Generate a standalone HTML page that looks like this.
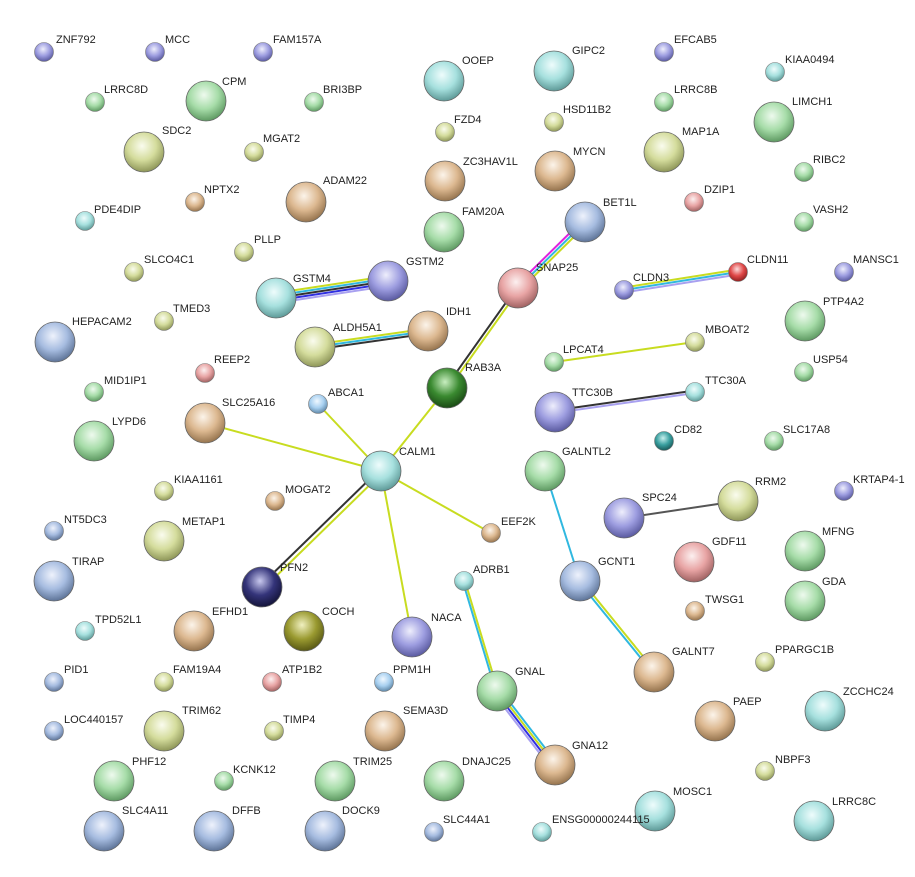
<!DOCTYPE html>
<html><head><meta charset="utf-8"><style>
html,body{margin:0;padding:0;background:#fff;}
svg{display:block;}
text{font-family:"Liberation Sans",sans-serif;font-size:11px;fill:#222;}
</style></head><body>
<svg width="915" height="877" viewBox="0 0 915 877" xmlns="http://www.w3.org/2000/svg">
<defs>
<radialGradient id="sh" cx="50%" cy="50%" r="50%"><stop offset="60%" stop-color="#000" stop-opacity="0.35"/><stop offset="100%" stop-color="#000" stop-opacity="0"/></radialGradient>
<radialGradient id="p" cx="45%" cy="35%" r="65%"><stop offset="0" stop-color="#eeeefc"/><stop offset="0.55" stop-color="#9d9de0"/><stop offset="1" stop-color="#5a5aa0"/></radialGradient>
<radialGradient id="g" cx="45%" cy="35%" r="65%"><stop offset="0" stop-color="#eefaee"/><stop offset="0.55" stop-color="#a6dca8"/><stop offset="1" stop-color="#5e9a62"/></radialGradient>
<radialGradient id="o" cx="45%" cy="35%" r="65%"><stop offset="0" stop-color="#fafcee"/><stop offset="0.55" stop-color="#d4dc9c"/><stop offset="1" stop-color="#8e9658"/></radialGradient>
<radialGradient id="t" cx="45%" cy="35%" r="65%"><stop offset="0" stop-color="#fcf4ea"/><stop offset="0.55" stop-color="#dcb890"/><stop offset="1" stop-color="#96744e"/></radialGradient>
<radialGradient id="c" cx="45%" cy="35%" r="65%"><stop offset="0" stop-color="#eefcfc"/><stop offset="0.55" stop-color="#a6e0de"/><stop offset="1" stop-color="#5e9a98"/></radialGradient>
<radialGradient id="b" cx="45%" cy="35%" r="65%"><stop offset="0" stop-color="#eef2fc"/><stop offset="0.55" stop-color="#a6bce0"/><stop offset="1" stop-color="#5e7498"/></radialGradient>
<radialGradient id="lb" cx="45%" cy="35%" r="65%"><stop offset="0" stop-color="#f0f8ff"/><stop offset="0.55" stop-color="#a8d0f0"/><stop offset="1" stop-color="#6088a8"/></radialGradient>
<radialGradient id="r" cx="45%" cy="35%" r="65%"><stop offset="0" stop-color="#fcf0f0"/><stop offset="0.55" stop-color="#e8a4a4"/><stop offset="1" stop-color="#a06262"/></radialGradient>
<radialGradient id="rr" cx="45%" cy="35%" r="65%"><stop offset="0" stop-color="#fcdcdc"/><stop offset="0.55" stop-color="#e04848"/><stop offset="1" stop-color="#902020"/></radialGradient>
<radialGradient id="dg" cx="45%" cy="35%" r="65%"><stop offset="0" stop-color="#c8eec0"/><stop offset="0.55" stop-color="#3a8a30"/><stop offset="1" stop-color="#1a4a14"/></radialGradient>
<radialGradient id="nv" cx="45%" cy="35%" r="65%"><stop offset="0" stop-color="#c8c8ee"/><stop offset="0.55" stop-color="#34347a"/><stop offset="1" stop-color="#14143a"/></radialGradient>
<radialGradient id="do" cx="45%" cy="35%" r="65%"><stop offset="0" stop-color="#f0f0c0"/><stop offset="0.55" stop-color="#9a9a30"/><stop offset="1" stop-color="#585814"/></radialGradient>
<radialGradient id="tl" cx="45%" cy="35%" r="65%"><stop offset="0" stop-color="#c8f0ee"/><stop offset="0.55" stop-color="#3aa0a0"/><stop offset="1" stop-color="#1a5a5a"/></radialGradient>
</defs>

<!-- edges -->
<g stroke-width="2" fill="none">
<line x1="276" y1="293" x2="388" y2="276" stroke="#c8dc20"/>
<line x1="276" y1="295.5" x2="388" y2="278.5" stroke="#30b8e0"/>
<line x1="276" y1="298" x2="388" y2="281" stroke="#333"/>
<line x1="276" y1="300.5" x2="388" y2="283.5" stroke="#3030e0"/>
<line x1="276" y1="303" x2="388" y2="286" stroke="#a8a0f0"/>
<line x1="315" y1="344.5" x2="428" y2="328.5" stroke="#c8dc20"/>
<line x1="315" y1="347" x2="428" y2="331" stroke="#30b8e0"/>
<line x1="315" y1="349.5" x2="428" y2="333.5" stroke="#333"/>
<line x1="583" y1="220" x2="516" y2="286" stroke="#e020e0"/>
<line x1="585" y1="222" x2="518" y2="288" stroke="#30b8e0"/>
<line x1="587" y1="224" x2="520" y2="290" stroke="#c8dc20"/>
<line x1="517" y1="287" x2="446" y2="387" stroke="#333"/>
<line x1="519.5" y1="289" x2="448.5" y2="389" stroke="#c8dc20"/>
<line x1="624" y1="287.5" x2="738" y2="269.5" stroke="#c8dc20"/>
<line x1="624" y1="290" x2="738" y2="272" stroke="#30b8e0"/>
<line x1="624" y1="292.5" x2="738" y2="274.5" stroke="#a8a0f0"/>
<line x1="554" y1="410.5" x2="695" y2="390.5" stroke="#333"/>
<line x1="554" y1="413" x2="695" y2="393" stroke="#a8a0f0"/>
<line x1="554" y1="362" x2="695" y2="342" stroke="#c8dc20"/>
<line x1="447" y1="388" x2="381" y2="471" stroke="#c8dc20"/>
<line x1="318" y1="404" x2="381" y2="471" stroke="#c8dc20"/>
<line x1="205" y1="423" x2="381" y2="471" stroke="#c8dc20"/>
<line x1="381" y1="471" x2="491" y2="533" stroke="#c8dc20"/>
<line x1="381" y1="471" x2="412" y2="637" stroke="#c8dc20"/>
<line x1="379.5" y1="469.5" x2="260.5" y2="585.5" stroke="#333"/>
<line x1="382.5" y1="472.5" x2="263.5" y2="588.5" stroke="#c8dc20"/>
<line x1="545" y1="471" x2="580" y2="581" stroke="#30b8e0"/>
<line x1="624" y1="518" x2="738" y2="501" stroke="#555"/>
<line x1="579" y1="582" x2="653" y2="673" stroke="#30b8e0"/>
<line x1="581" y1="580" x2="655" y2="671" stroke="#c8dc20"/>
<line x1="463" y1="582" x2="496" y2="692" stroke="#30b8e0"/>
<line x1="465" y1="581" x2="498" y2="691" stroke="#c8dc20"/>
<line x1="494" y1="694" x2="551" y2="768" stroke="#a8a0f0"/>
<line x1="496" y1="692.5" x2="553" y2="766.5" stroke="#3030e0"/>
<line x1="498" y1="691" x2="555" y2="765" stroke="#c8dc20"/>
<line x1="500" y1="689.5" x2="557" y2="763.5" stroke="#30b8e0"/>
</g>

<!-- small nodes -->
<g stroke="#777" stroke-width="0.6">
<circle cx="44" cy="52" r="9.5" fill="url(#p)"/>
<circle cx="155" cy="52" r="9.5" fill="url(#p)"/>
<circle cx="263" cy="52" r="9.5" fill="url(#p)"/>
<circle cx="95" cy="102" r="9.5" fill="url(#g)"/>
<circle cx="314" cy="102" r="9.5" fill="url(#g)"/>
<circle cx="254" cy="152" r="9.5" fill="url(#o)"/>
<circle cx="195" cy="202" r="9.5" fill="url(#t)"/>
<circle cx="85" cy="221" r="9.5" fill="url(#c)"/>
<circle cx="244" cy="252" r="9.5" fill="url(#o)"/>
<circle cx="134" cy="272" r="9.5" fill="url(#o)"/>
<circle cx="164" cy="321" r="9.5" fill="url(#o)"/>
<circle cx="205" cy="373" r="9.5" fill="url(#r)"/>
<circle cx="94" cy="392" r="9.5" fill="url(#g)"/>
<circle cx="318" cy="404" r="9.5" fill="url(#lb)"/>
<circle cx="164" cy="491" r="9.5" fill="url(#o)"/>
<circle cx="275" cy="501" r="9.5" fill="url(#t)"/>
<circle cx="54" cy="531" r="9.5" fill="url(#b)"/>
<circle cx="491" cy="533" r="9.5" fill="url(#t)"/>
<circle cx="85" cy="631" r="9.5" fill="url(#c)"/>
<circle cx="54" cy="682" r="9.5" fill="url(#b)"/>
<circle cx="164" cy="682" r="9.5" fill="url(#o)"/>
<circle cx="272" cy="682" r="9.5" fill="url(#r)"/>
<circle cx="384" cy="682" r="9.5" fill="url(#lb)"/>
<circle cx="54" cy="731" r="9.5" fill="url(#b)"/>
<circle cx="274" cy="731" r="9.5" fill="url(#o)"/>
<circle cx="224" cy="781" r="9.5" fill="url(#g)"/>
<circle cx="434" cy="832" r="9.5" fill="url(#b)"/>
<circle cx="542" cy="832" r="9.5" fill="url(#c)"/>
<circle cx="664" cy="52" r="9.5" fill="url(#p)"/>
<circle cx="775" cy="72" r="9.5" fill="url(#c)"/>
<circle cx="445" cy="132" r="9.5" fill="url(#o)"/>
<circle cx="554" cy="122" r="9.5" fill="url(#o)"/>
<circle cx="664" cy="102" r="9.5" fill="url(#g)"/>
<circle cx="804" cy="172" r="9.5" fill="url(#g)"/>
<circle cx="694" cy="202" r="9.5" fill="url(#r)"/>
<circle cx="804" cy="222" r="9.5" fill="url(#g)"/>
<circle cx="738" cy="272" r="9.5" fill="url(#rr)"/>
<circle cx="624" cy="290" r="9.5" fill="url(#p)"/>
<circle cx="844" cy="272" r="9.5" fill="url(#p)"/>
<circle cx="695" cy="342" r="9.5" fill="url(#o)"/>
<circle cx="554" cy="362" r="9.5" fill="url(#g)"/>
<circle cx="804" cy="372" r="9.5" fill="url(#g)"/>
<circle cx="695" cy="392" r="9.5" fill="url(#c)"/>
<circle cx="664" cy="441" r="9.5" fill="url(#tl)"/>
<circle cx="774" cy="441" r="9.5" fill="url(#g)"/>
<circle cx="844" cy="491" r="9.5" fill="url(#p)"/>
<circle cx="464" cy="581" r="9.5" fill="url(#c)"/>
<circle cx="695" cy="611" r="9.5" fill="url(#t)"/>
<circle cx="765" cy="662" r="9.5" fill="url(#o)"/>
<circle cx="765" cy="771" r="9.5" fill="url(#o)"/>
</g>

<!-- large nodes -->
<g stroke="#666" stroke-width="0.8">
<circle cx="206" cy="101" r="20" fill="url(#g)"/>
<circle cx="144" cy="152" r="20" fill="url(#o)"/>
<circle cx="306" cy="202" r="20" fill="url(#t)"/>
<circle cx="276" cy="298" r="20" fill="url(#c)"/>
<circle cx="388" cy="281" r="20" fill="url(#p)"/>
<circle cx="55" cy="342" r="20" fill="url(#b)"/>
<circle cx="315" cy="347" r="20" fill="url(#o)"/>
<circle cx="428" cy="331" r="20" fill="url(#t)"/>
<circle cx="447" cy="388" r="20" fill="url(#dg)"/>
<circle cx="205" cy="423" r="20" fill="url(#t)"/>
<circle cx="94" cy="441" r="20" fill="url(#g)"/>
<circle cx="381" cy="471" r="20" fill="url(#c)"/>
<circle cx="164" cy="541" r="20" fill="url(#o)"/>
<circle cx="54" cy="581" r="20" fill="url(#b)"/>
<circle cx="262" cy="587" r="20" fill="url(#nv)"/>
<circle cx="194" cy="631" r="20" fill="url(#t)"/>
<circle cx="304" cy="631" r="20" fill="url(#do)"/>
<circle cx="412" cy="637" r="20" fill="url(#p)"/>
<circle cx="164" cy="731" r="20" fill="url(#o)"/>
<circle cx="385" cy="731" r="20" fill="url(#t)"/>
<circle cx="114" cy="781" r="20" fill="url(#g)"/>
<circle cx="335" cy="781" r="20" fill="url(#g)"/>
<circle cx="444" cy="781" r="20" fill="url(#g)"/>
<circle cx="104" cy="831" r="20" fill="url(#b)"/>
<circle cx="214" cy="831" r="20" fill="url(#b)"/>
<circle cx="325" cy="831" r="20" fill="url(#b)"/>
<circle cx="444" cy="81" r="20" fill="url(#c)"/>
<circle cx="554" cy="71" r="20" fill="url(#c)"/>
<circle cx="664" cy="152" r="20" fill="url(#o)"/>
<circle cx="774" cy="122" r="20" fill="url(#g)"/>
<circle cx="445" cy="181" r="20" fill="url(#t)"/>
<circle cx="555" cy="171" r="20" fill="url(#t)"/>
<circle cx="444" cy="232" r="20" fill="url(#g)"/>
<circle cx="585" cy="222" r="20" fill="url(#b)"/>
<circle cx="518" cy="288" r="20" fill="url(#r)"/>
<circle cx="805" cy="321" r="20" fill="url(#g)"/>
<circle cx="555" cy="412" r="20" fill="url(#p)"/>
<circle cx="545" cy="471" r="20" fill="url(#g)"/>
<circle cx="738" cy="501" r="20" fill="url(#o)"/>
<circle cx="624" cy="518" r="20" fill="url(#p)"/>
<circle cx="805" cy="551" r="20" fill="url(#g)"/>
<circle cx="694" cy="562" r="20" fill="url(#r)"/>
<circle cx="580" cy="581" r="20" fill="url(#b)"/>
<circle cx="805" cy="601" r="20" fill="url(#g)"/>
<circle cx="654" cy="672" r="20" fill="url(#t)"/>
<circle cx="497" cy="691" r="20" fill="url(#g)"/>
<circle cx="825" cy="711" r="20" fill="url(#c)"/>
<circle cx="715" cy="721" r="20" fill="url(#t)"/>
<circle cx="555" cy="765" r="20" fill="url(#t)"/>
<circle cx="655" cy="811" r="20" fill="url(#c)"/>
<circle cx="814" cy="821" r="20" fill="url(#c)"/>
</g>

<!-- labels -->
<g>
<text x="56" y="43">ZNF792</text>
<text x="165" y="43">MCC</text>
<text x="273" y="43">FAM157A</text>
<text x="104" y="93">LRRC8D</text>
<text x="222" y="85">CPM</text>
<text x="323" y="93">BRI3BP</text>
<text x="162" y="134">SDC2</text>
<text x="263" y="142">MGAT2</text>
<text x="204" y="193">NPTX2</text>
<text x="323" y="184">ADAM22</text>
<text x="94" y="213">PDE4DIP</text>
<text x="254" y="243">PLLP</text>
<text x="144" y="263">SLCO4C1</text>
<text x="293" y="282">GSTM4</text>
<text x="406" y="265">GSTM2</text>
<text x="173" y="312">TMED3</text>
<text x="72" y="325">HEPACAM2</text>
<text x="333" y="331">ALDH5A1</text>
<text x="446" y="315">IDH1</text>
<text x="214" y="363">REEP2</text>
<text x="104" y="384">MID1IP1</text>
<text x="465" y="371">RAB3A</text>
<text x="328" y="396">ABCA1</text>
<text x="222" y="406">SLC25A16</text>
<text x="112" y="425">LYPD6</text>
<text x="399" y="455">CALM1</text>
<text x="174" y="483">KIAA1161</text>
<text x="285" y="493">MOGAT2</text>
<text x="64" y="523">NT5DC3</text>
<text x="182" y="525">METAP1</text>
<text x="501" y="525">EEF2K</text>
<text x="72" y="565">TIRAP</text>
<text x="280" y="571">PFN2</text>
<text x="95" y="623">TPD52L1</text>
<text x="212" y="615">EFHD1</text>
<text x="322" y="615">COCH</text>
<text x="431" y="621">NACA</text>
<text x="64" y="673">PID1</text>
<text x="173" y="673">FAM19A4</text>
<text x="282" y="673">ATP1B2</text>
<text x="393" y="673">PPM1H</text>
<text x="64" y="723">LOC440157</text>
<text x="182" y="714">TRIM62</text>
<text x="283" y="723">TIMP4</text>
<text x="403" y="714">SEMA3D</text>
<text x="132" y="765">PHF12</text>
<text x="233" y="773">KCNK12</text>
<text x="353" y="765">TRIM25</text>
<text x="462" y="765">DNAJC25</text>
<text x="122" y="814">SLC4A11</text>
<text x="232" y="814">DFFB</text>
<text x="342" y="814">DOCK9</text>
<text x="443" y="823">SLC44A1</text>
<text x="552" y="823">ENSG00000244115</text>
<text x="462" y="64">OOEP</text>
<text x="572" y="54">GIPC2</text>
<text x="674" y="43">EFCAB5</text>
<text x="785" y="63">KIAA0494</text>
<text x="454" y="123">FZD4</text>
<text x="563" y="113">HSD11B2</text>
<text x="674" y="93">LRRC8B</text>
<text x="682" y="135">MAP1A</text>
<text x="792" y="105">LIMCH1</text>
<text x="463" y="165">ZC3HAV1L</text>
<text x="573" y="155">MYCN</text>
<text x="813" y="163">RIBC2</text>
<text x="704" y="193">DZIP1</text>
<text x="462" y="215">FAM20A</text>
<text x="603" y="206">BET1L</text>
<text x="813" y="213">VASH2</text>
<text x="536" y="271">SNAP25</text>
<text x="747" y="263">CLDN11</text>
<text x="633" y="281">CLDN3</text>
<text x="853" y="263">MANSC1</text>
<text x="823" y="305">PTP4A2</text>
<text x="705" y="333">MBOAT2</text>
<text x="563" y="353">LPCAT4</text>
<text x="813" y="363">USP54</text>
<text x="572" y="396">TTC30B</text>
<text x="705" y="384">TTC30A</text>
<text x="674" y="433">CD82</text>
<text x="783" y="433">SLC17A8</text>
<text x="562" y="455">GALNTL2</text>
<text x="853" y="483">KRTAP4-1</text>
<text x="755" y="485">RRM2</text>
<text x="642" y="501">SPC24</text>
<text x="822" y="535">MFNG</text>
<text x="712" y="545">GDF11</text>
<text x="598" y="565">GCNT1</text>
<text x="473" y="573">ADRB1</text>
<text x="822" y="585">GDA</text>
<text x="705" y="603">TWSG1</text>
<text x="672" y="655">GALNT7</text>
<text x="775" y="653">PPARGC1B</text>
<text x="515" y="675">GNAL</text>
<text x="843" y="695">ZCCHC24</text>
<text x="733" y="705">PAEP</text>
<text x="572" y="749">GNA12</text>
<text x="775" y="763">NBPF3</text>
<text x="673" y="795">MOSC1</text>
<text x="832" y="805">LRRC8C</text>
</g>
</svg>
</body></html>
